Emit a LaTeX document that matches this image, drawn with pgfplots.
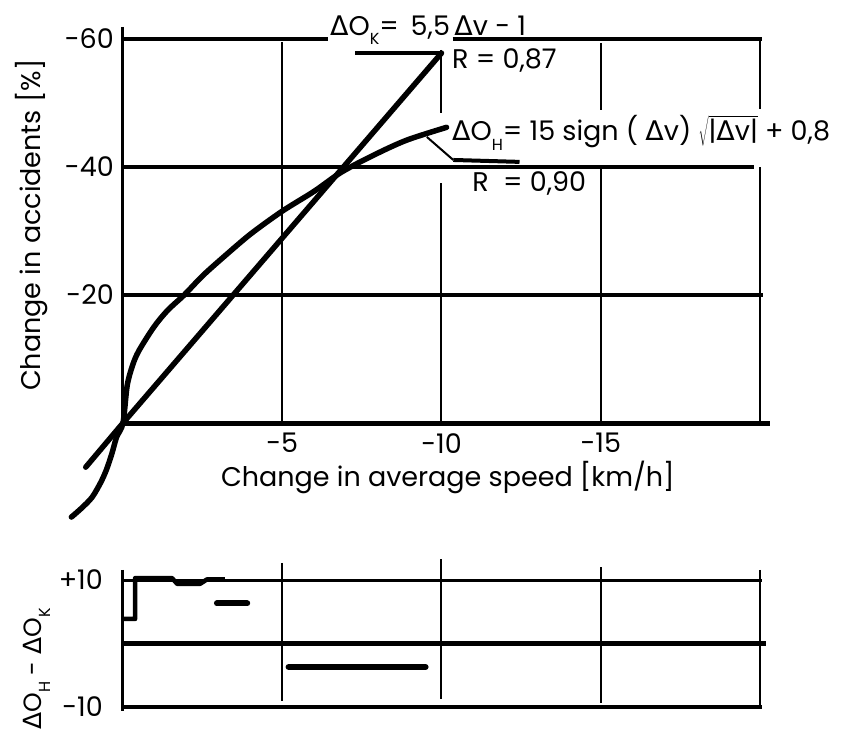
\documentclass[border=0pt]{standalone}
\usepackage{fontspec}
\setmainfont{Poppins}
\newfontfamily\symfont{DejaVu Sans}
\usepackage{pgfplots}
\pgfplotsset{compat=1.18}

\newcommand{\D}{{\symfont Δ}}
\newcommand{\sub}[1]{\raisebox{-0.35em}{\fontsize{16}{16}\selectfont #1}}

\begin{document}
\begin{tikzpicture}[font=\fontsize{27}{31}\selectfont]
\useasboundingbox (-123pt,-306pt) rectangle (724pt,423pt);

% ---------- main panel: change in accidents vs. change in speed ----------
\begin{axis}[
  name=main, at={(0,0)}, anchor=south west,
  scale only axis, width=637pt, height=384pt,
  x dir=reverse, y dir=reverse,
  xmin=-20, xmax=0, ymin=-60, ymax=0,
  enlargelimits=false, clip=false,
  axis line style={draw=none}, major tick length=0pt,
  xtick={-5,-10,-15}, xticklabels={-5,-10,-15},
  ytick={-60,-40,-20}, yticklabels={-60,-40,-20},
  xticklabel style={anchor=north, inner sep=0pt, yshift=-10pt},
  yticklabel style={anchor=east, inner sep=0pt, xshift=-9pt},
  xlabel={Change in average speed [km/h]},
  ylabel={Change in accidents [\%]},
  xlabel style={at={(axis description cs:0.51,-0.143)}, anchor=center},
  ylabel style={at={(axis description cs:-0.144,0.515)}, anchor=center},
]
% frame and grid
\draw[line width=3pt] (axis cs:0,-61.9) -- (axis cs:0,0);
\draw[line width=5pt] (axis cs:0,0) -- (axis cs:-20.3,0);
\draw[line width=3.5pt] (axis cs:0,-20) -- (axis cs:-20.1,-20);
\draw[line width=3.5pt] (axis cs:0,-40) -- (axis cs:-19.8,-40);
\draw[line width=3.5pt] (axis cs:0,-60) -- (axis cs:-6.45,-60);
\draw[line width=3.5pt] (axis cs:-10.35,-60) -- (axis cs:-20.05,-60);
\draw[line width=2pt] (axis cs:-5,-59.5) -- (axis cs:-5,0);
\draw[line width=2pt] (axis cs:-10,-58.3) -- (axis cs:-10,-48.4);
\draw[line width=2pt] (axis cs:-10,-37.5) -- (axis cs:-10,0);
\draw[line width=2pt] (axis cs:-15,-59.4) -- (axis cs:-15,-48.9);
\draw[line width=2pt] (axis cs:-15,-40) -- (axis cs:-15,0);
\draw[line width=2pt] (axis cs:-20,-59.8) -- (axis cs:-20,-49.1);
\draw[line width=2pt] (axis cs:-20,-40) -- (axis cs:-20,0);

% linear fit
\addplot[line width=5.5pt, line cap=round, line join=round]
  coordinates {(1.17,6.9) (0,0) (-5,-28.9) (-10,-57.8)};
% square-root fit
\addplot[line width=5.5pt, line cap=round, line join=round,
         smooth, tension=0.5]
  coordinates {
  (1.62,14.7) (1.3,13.3) (0.97,11.6) (0.7,9.3) (0.52,7.3) (0.35,4.8)
  (0.2,2.2) (0,0) (-0.13,-5.8) (-0.3,-9)
  (-0.5,-11.3) (-0.97,-15) (-1.4,-17.6) (-1.92,-20) (-2.5,-23)
  (-3.15,-25.9) (-4,-29.5) (-5,-33.1) (-6,-36.2) (-6.86,-39.2)
  (-7.89,-41.9) (-8.91,-44.2) (-10.16,-46.2)};

% leaders to the equations
\draw[line width=3.5pt] (axis cs:-7.3,-57.8) -- (axis cs:-10,-57.8);
\draw[line width=2pt] (axis cs:-9.54,-44.7) -- (axis cs:-10.37,-41.1);
\draw[line width=4pt] (axis cs:-10.37,-41.1) -- (axis cs:-12.45,-40.8);

\node[anchor=base west, inner sep=0pt] at (axis cs:-6.5,-60.6)
  {\D O\sub{K}= \,5,5\,\D v - 1};
\node[anchor=west, inner sep=0pt] at (axis cs:-10.33,-56.7) {R = 0,87};
\node[anchor=west, inner sep=0pt] at (axis cs:-10.33,-45.3)
  {\D O\sub{H}= 15 sign ( \D v) $\sqrt{\mbox{|\D v|}}$ + 0,8};
\node[anchor=west, inner sep=0pt] at (axis cs:-10.96,-37.5) {R \ = 0,90};
\end{axis}

% ---------- lower panel: difference of the two fits ----------
\begin{axis}[
  name=diff, at={(0,-157pt)}, anchor=north west,
  scale only axis, width=637pt, height=127pt,
  x dir=reverse,
  xmin=-20, xmax=0, ymin=-10, ymax=10,
  enlargelimits=false, clip=false,
  axis line style={draw=none}, major tick length=0pt,
  xtick=\empty,
  ytick={-10,10}, yticklabels={-10,+10},
  yticklabel style={anchor=east, inner sep=0pt, xshift=-20pt},
  ylabel={\fontsize{25}{29}\selectfont\D O\sub{H} - \D O\sub{K}},
  ylabel style={at={(axis description cs:-0.135,0.30)}, anchor=center},
]
\draw[line width=3pt] (axis cs:0,11.6) -- (axis cs:0,-10.7);
\draw[line width=3pt] (axis cs:0,10) -- (axis cs:-20.05,10);
\draw[line width=5pt] (axis cs:0,0) -- (axis cs:-20.2,0);
\draw[line width=4pt] (axis cs:0,-10) -- (axis cs:-20.05,-10);
\draw[line width=2pt] (axis cs:-5,12.7) -- (axis cs:-5,-9);
\draw[line width=2pt] (axis cs:-10,13.3) -- (axis cs:-10,-8.7);
\draw[line width=2pt] (axis cs:-15,12) -- (axis cs:-15,-9.4);
\draw[line width=2pt] (axis cs:-20,11.6) -- (axis cs:-20,-10);

\addplot[line width=4.5pt, line join=round]
  coordinates {(0,3.86) (-0.38,3.86) (-0.38,10.3) (-1.54,10.3)
               (-1.7,9.4) (-2.42,9.4) (-2.64,10.1) (-3.2,10.1)};
\addplot[line width=6pt, line cap=round]
  coordinates {(-2.95,6.3) (-3.9,6.3)};
\addplot[line width=6pt, line cap=round]
  coordinates {(-5.2,-3.7) (-9.5,-3.7)};
\end{axis}
\end{tikzpicture}
\end{document}
